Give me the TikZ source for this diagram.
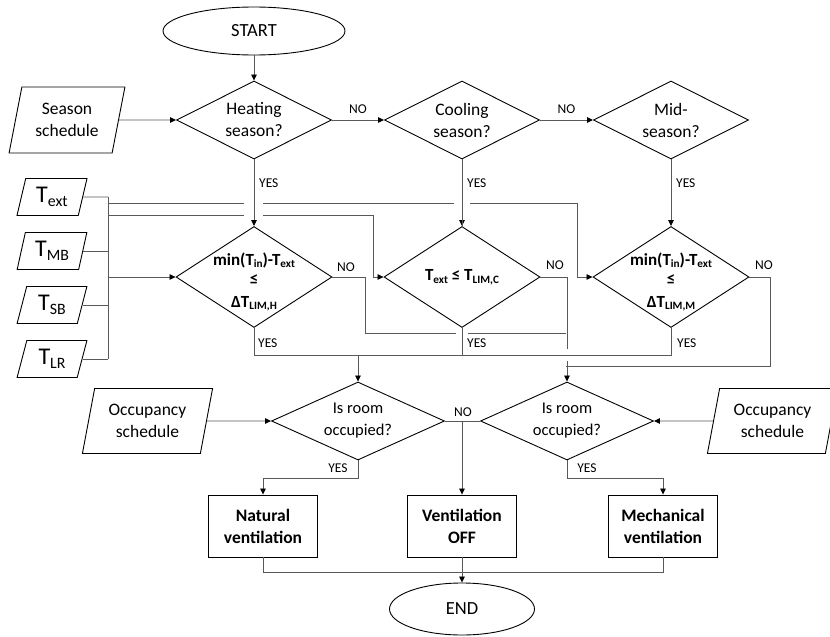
\documentclass[tikz,border=0pt]{standalone}
\usepackage{graphicx}
\usepackage{fontspec}
\setmainfont{Carlito}
\usetikzlibrary{shapes.geometric,arrows.meta,calc}
\newcommand{\lo}[1]{\raisebox{-0.35ex}{\scalebox{0.66}{#1}}}
\begin{document}
\begin{tikzpicture}[x=1pt,y=-1pt,
  shp/.style={draw=black, line width=0.9pt},
  term/.style={shp, ellipse, inner sep=0pt, font=\fontsize{18.5}{22}\selectfont},
  dia/.style={shp, diamond, inner sep=0pt, minimum width=155pt, minimum height=78pt},
  diab/.style={shp, diamond, inner sep=0pt, minimum width=156pt, minimum height=101pt},
  diao/.style={shp, diamond, inner sep=0pt, minimum width=173pt, minimum height=78pt},
  io/.style={shp, trapezium, trapezium left angle=75, trapezium right angle=105,
    trapezium stretches=true, inner sep=0pt, align=center},
  tio/.style={io, minimum width=70pt, minimum height=37pt, font=\fontsize{24}{26}\selectfont},
  act/.style={shp, rectangle, minimum width=109pt, minimum height=62pt, inner sep=0pt,
    align=center, font=\bfseries\fontsize{17.5}{22}\selectfont},
  txt/.style={align=center, inner sep=0pt, font=\fontsize{17.5}{22}\selectfont},
  btxt/.style={align=center, inner sep=0pt, font=\bfseries\fontsize{17}{18}\selectfont},
  lab/.style={inner sep=0pt, font=\fontsize{13.5}{15}\selectfont},
  con/.style={draw=black!65, line width=0.8pt},
  arr/.style={con, -{Triangle[length=6pt,width=5.5pt,color=black]}}]
\useasboundingbox (0,0) rectangle (830,637);

% ---------- nodes ----------
\node[term, minimum width=182pt, minimum height=48pt] (start) at (254,31) {START};
\node[dia] (h1) at (254,120) {};
\node[txt] (h1t) at (h1) {Heating\\season?};
\node[dia] (c1) at (462,120) {};
\node[txt] (c1t) at (c1) {Cooling\\season?};
\node[dia] (m1) at (671,120) {};
\node[txt] (m1t) at (m1) {Mid-\\season?};
\node[io, minimum width=116pt, minimum height=66pt, font=\fontsize{17.5}{22}\selectfont] (season) at (67,120) {Season\\schedule};

\node[tio] (te) at (52,197) {T\lo{ext}};
\node[tio] (tm) at (52,251) {T\lo{MB}};
\node[tio] (ts) at (52,305) {T\lo{SB}};
\node[tio] (tl) at (52,359) {T\lo{LR}};

\node[diab] (h2) at (254,277) {};
\node[btxt] (h2t) at (254,282) {min(T\lo{in})-T\lo{ext}\\[1pt]≤\\[5pt]ΔT\lo{LIM,H}};
\node[diab] (c2) at (462,277) {};
\node[btxt] (c2t) at (c2) {T\lo{ext} ≤ T\lo{LIM,C}};
\node[diab] (m2) at (671,277) {};
\node[btxt] (m2t) at (671,282) {min(T\lo{in})-T\lo{ext}\\[1pt]≤\\[5pt]ΔT\lo{LIM,M}};

\node[diao] (occ1) at (358,421) {};
\node[txt, font=\fontsize{16.5}{22}\selectfont] (occ1t) at (occ1) {Is room\\occupied?};
\node[diao] (occ2) at (567,421) {};
\node[txt, font=\fontsize{16.5}{22}\selectfont] (occ2t) at (occ2) {Is room\\occupied?};
\node[io, minimum width=131pt, minimum height=65pt, font=\fontsize{17.5}{22}\selectfont] (occL) at (147.5,421) {Occupancy\\schedule};
\node[io, minimum width=131pt, minimum height=65pt, font=\fontsize{17.5}{22}\selectfont] (occR) at (772.5,421) {Occupancy\\schedule};

\node[act] (nat) at (263,526) {Natural\\ventilation};
\node[act] (off) at (462,526) {Ventilation\\OFF};
\node[act] (mech) at (663,526) {Mechanical\\ventilation};
\node[term, minimum width=145pt, minimum height=52pt] (endn) at (462,609) {END};

% ---------- coordinates ----------
\coordinate (bA) at (108,203);
\coordinate (bB) at (108,215);
\coordinate (bC) at (108,277);
\coordinate (bT) at (108,197);
\coordinate (hn) at (365,277);
\coordinate (hm) at (566,333);
\coordinate (mn) at (770,277);
\coordinate (mm) at (566,366);
\coordinate (y1) at (254,355);
\coordinate (y2) at (671,355);
\coordinate (y3) at (462,355);

% ---------- first layer of connectors ----------
\draw[arr] (start) -- (h1);
\draw[arr] (season) -- (h1);
\draw[arr] (h1) -- node[lab, above=6pt]{NO} (c1);
\draw[arr] (c1) -- node[lab, above=6pt]{NO} (m1);
\draw[arr] (c1) -- (c2) ;
\draw[arr] (m1) -- (m2);

% temperature bus
\draw[con] (te.east) -- (bT);
\draw[con] (tm.east) -- (tm.east -| bT);
\draw[con] (ts.east) -- (ts.east -| bT);
\draw[con] (tl.east) -- (tl.east -| bT);
\draw[con] (bT) -- (tl.east -| bT);
\draw[arr] (bC) -- (h2.west);
\draw[arr] (bB) -| ($(c2.west)+(-10,0)$) -- (c2.west);
\draw[arr] (bA) -| ($(m2.west)+(-15,0)$) -- (m2.west);

% NO branches
\draw[con] (h2.east) -- (hn) |- (hm);
\draw[arr] (c2.east) -| (occ2.north);
\draw[con] (m2.east) -- (mn) |- (mm);

% crossing gaps
\fill[white] (244,198) rectangle (263,220);
\fill[white] (454,198) rectangle (470,208);
\fill[white] (456,330) rectangle (468,336);
\fill[white] (561,349) rectangle (571,361);

\draw[arr] (h1) -- (h2);
\draw[con] (c1.south) -- (c2.north);

% YES bus
\draw[con] (h2.south) -- (y1) -- (y2) -- (m2.south);
\draw[con] (c2.south) -- (y3);
\draw[arr] (occ1.north |- y1) -- (occ1.north);

% occupancy
\draw[arr] (occL) -- (occ1);
\draw[arr] (occR) -- (occ2);
\draw[con] (occ1.east) -- (occ2.west);
\draw[arr] (off.north |- occ1.east) -- (off.north);
\draw[arr] (occ1.south) -- ++(0,18) -| (nat.north);
\draw[arr] (occ2.south) -- ++(0,18) -| (mech.north);
\draw[con] (nat.south) -- ++(0,15) -| (mech.south);
\draw[arr] (off) -- (endn);

% ---------- labels ----------
\node[lab, anchor=west] at (259,183) {YES};
\node[lab, anchor=west] at (467,183) {YES};
\node[lab, anchor=west] at (676,183) {YES};
\node[lab, anchor=west] at (337,267) {NO};
\node[lab, anchor=west] at (546,265) {NO};
\node[lab, anchor=west] at (755,265) {NO};
\node[lab, anchor=west] at (258,343) {YES};
\node[lab, anchor=west] at (467,343) {YES};
\node[lab, anchor=west] at (677,343) {YES};
\node[lab] at (463,412) {NO};
\node[lab] at (338,468) {YES};
\node[lab] at (587,468) {YES};
\end{tikzpicture}
\end{document}
